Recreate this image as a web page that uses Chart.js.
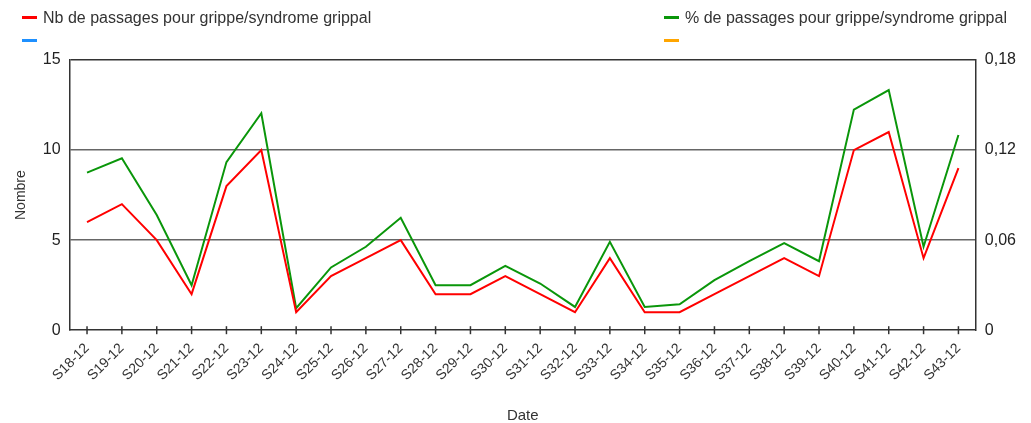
<!DOCTYPE html>
<html>
<head>
<meta charset="utf-8">
<script src="https://cdn.jsdelivr.net/npm/chart.js@4"></script>
<style>
  body { margin: 0; background: #fff; font-family: "Liberation Sans", Arial, sans-serif; }
  #wrap { position: relative; width: 1031px; height: 423px; }
  #legend { position: absolute; left: 0; top: 0; width: 1031px; height: 50px; }
  .item { position: absolute; font-size: 16px; color: #333; white-space: nowrap; line-height: 16px; }
  .item span.mark { position: absolute; left: 0; top: 6px; width: 15px; height: 3px; }
  .item span.txt { position: absolute; left: 21px; top: 0; }
</style>
</head>
<body>
<div id="wrap">
  <canvas id="chart" width="1031" height="423"></canvas>
  <div id="legend"></div>
</div>
<script>
const weeks = ["S18-12", "S19-12", "S20-12", "S21-12", "S22-12", "S23-12", "S24-12", "S25-12",
  "S26-12", "S27-12", "S28-12", "S29-12", "S30-12", "S31-12", "S32-12", "S33-12", "S34-12",
  "S35-12", "S36-12", "S37-12", "S38-12", "S39-12", "S40-12", "S41-12", "S42-12", "S43-12"];

const nbPassages = [6, 7, 5, 2, 8, 10, 1, 3, 4, 5, 2, 2, 3, 2, 1, 4, 1, 1, 2, 3, 4, 3, 10, 11, 4, 9];

const pctPassages = [0.105, 0.1145, 0.0767, 0.030, 0.112, 0.1445, 0.0147, 0.0418, 0.0556, 0.0749,
  0.030, 0.030, 0.0429, 0.0311, 0.0155, 0.0589, 0.0155, 0.0173, 0.0333, 0.046, 0.058, 0.046,
  0.147, 0.160, 0.0556, 0.130];

const leftTicks = [0, 5, 10, 15];
const rightTicks = [0, 0.06, 0.12, 0.18];

const labelNb = "Nb de passages pour grippe/syndrome grippal";
const labelPct = "% de passages pour grippe/syndrome grippal";

// legend slots: [left, top]
const legendPos = [[22, 10], [664, 10], [22, 33], [664, 33]];

const ctx = document.getElementById("chart").getContext("2d");

// ticks that cross the bottom axis line
const crossTicks = {
  id: "crossTicks",
  afterDraw(chart) {
    const x = chart.scales.x;
    const c = chart.ctx;
    const yb = chart.chartArea.bottom;
    c.save();
    c.strokeStyle = "#333";
    c.lineWidth = 1.5;
    x.ticks.forEach((t, i) => {
      const px = x.getPixelForTick(i);
      c.beginPath();
      c.moveTo(px, yb - 4);
      c.lineTo(px, yb + 4);
      c.stroke();
    });
    c.restore();
  }
};

const chart = new Chart(ctx, {
  type: "line",
  data: {
    labels: weeks,
    datasets: [
      { label: labelNb, data: nbPassages, borderColor: "#ff0000", yAxisID: "y",
        borderWidth: 2, pointRadius: 0, tension: 0, fill: false },
      { label: labelPct, data: pctPassages, borderColor: "#0a960a", yAxisID: "y1",
        borderWidth: 2, pointRadius: 0, tension: 0, fill: false },
      { label: "", data: [], borderColor: "#1e90ff", yAxisID: "y" },
      { label: "", data: [], borderColor: "#ffa500", yAxisID: "y1" }
    ]
  },
  options: {
    responsive: false,
    animation: false,
    layout: { padding: { top: 60, right: 6, left: 9, bottom: -6 } },
    plugins: {
      legend: { display: false },
      tooltip: { enabled: false }
    },
    scales: {
      x: {
        offset: true,
        grid: { display: false, offset: false },
        border: { display: true, color: "#333", width: 1.5 },
        ticks: {
          color: "#333", font: { family: "Liberation Sans", size: 14 },
          maxRotation: 45, minRotation: 45, autoSkip: false, padding: 2
        },
        title: { display: true, text: "Date", color: "#333", font: { family: "Liberation Sans", size: 15 }, padding: { top: 21 } }
      },
      y: {
        position: "left",
        min: 0, max: 15,
        afterBuildTicks: (s) => { s.ticks = leftTicks.map(v => ({ value: v })); },
        grid: {
          drawTicks: false,
          color: (c) => c.tick.value === 15 ? "#333" : (c.tick.value === 0 ? "rgba(0,0,0,0)" : "#666"),
          lineWidth: 1.5
        },
        border: { display: true, color: "#333", width: 1.5 },
        ticks: { color: "#222", font: { family: "Liberation Sans", size: 16 }, padding: 9 },
        title: { display: true, text: "Nombre", color: "#333", font: { family: "Liberation Sans", size: 14 }, padding: { bottom: 4 } }
      },
      y1: {
        position: "right",
        min: 0, max: 0.18,
        afterBuildTicks: (s) => { s.ticks = rightTicks.map(v => ({ value: v })); },
        grid: { display: false, drawOnChartArea: false, drawTicks: false },
        border: { display: true, color: "#333", width: 1.5 },
        ticks: {
          color: "#222", font: { family: "Liberation Sans", size: 16 }, padding: 9,
          callback: (v) => v === 0 ? "0" : v.toFixed(2).replace(".", ",")
        }
      }
    }
  },
  plugins: [crossTicks]
});

// html legend built from the chart's datasets
const legendDiv = document.getElementById("legend");
chart.data.datasets.forEach((ds, i) => {
  const item = document.createElement("div");
  item.className = "item";
  item.style.left = legendPos[i][0] + "px";
  item.style.top = legendPos[i][1] + "px";
  item.innerHTML = `<span class="mark" style="background:${ds.borderColor}"></span><span class="txt">${ds.label}</span>`;
  legendDiv.appendChild(item);
});
</script>
</body>
</html>
